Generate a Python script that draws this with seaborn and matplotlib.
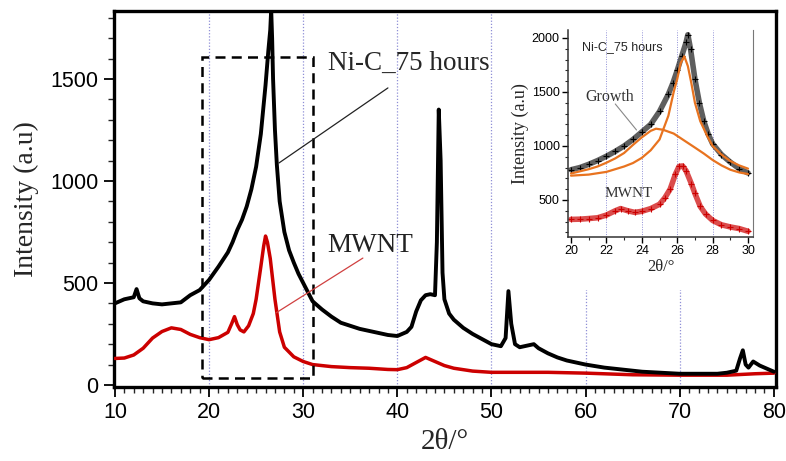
import matplotlib
matplotlib.use("Agg")
import matplotlib.pyplot as plt
from matplotlib.patches import Rectangle
from matplotlib.ticker import MultipleLocator
import seaborn as sns
import pandas as pd

# ---- main XRD patterns (2theta in degrees, intensity in a.u.) ----
nic_2theta = [10, 11, 12, 12.3, 12.6, 13, 14, 15, 16, 17, 18, 19, 20, 21, 22, 22.5, 23, 23.5,
              24, 24.5, 25, 25.5, 26, 26.3, 26.5, 26.6, 26.7, 26.8, 27, 27.2, 27.5, 28, 28.5,
              29, 29.5, 30, 31, 32, 33, 34, 35, 36, 37, 38, 39, 40, 41, 41.5, 42, 42.5, 43,
              43.5, 44, 44.2, 44.4, 44.6, 44.8, 45, 45.5, 46, 47, 48, 49, 50, 51, 51.5, 51.8,
              52.1, 52.5, 53, 54, 54.5, 55, 56, 57, 58, 59, 60, 62, 64, 66, 68, 70, 72, 74,
              75, 76, 76.4, 76.7, 77, 77.3, 77.8, 78.5, 79, 80]
nic_intensity = [400, 420, 430, 470, 425, 410, 400, 395, 400, 405, 440, 465, 515, 580, 650,
                 700, 760, 810, 875, 960, 1070, 1230, 1470, 1640, 1740, 1840, 1700, 1500, 1250,
                 1080, 900, 750, 660, 600, 545, 500, 410, 370, 335, 305, 290, 275, 265, 255,
                 245, 240, 260, 285, 360, 415, 440, 445, 440, 700, 1350, 1100, 550, 420, 350,
                 320, 280, 250, 225, 200, 190, 230, 460, 300, 200, 185, 195, 200, 180, 155,
                 135, 120, 110, 100, 85, 75, 65, 60, 55, 55, 55, 60, 70, 130, 170, 100, 85,
                 115, 95, 85, 65]

mwnt_2theta = [10, 11, 12, 13, 14, 15, 16, 17, 18, 19, 20, 21, 22, 22.4, 22.7, 23, 23.3, 23.7,
               24.2, 24.7, 25, 25.5, 25.8, 26, 26.2, 26.5, 27, 27.5, 28, 29, 30, 31, 33, 35,
               37, 39, 40, 41, 42, 43, 44, 45, 46, 48, 50, 52, 54, 56, 58, 60, 65, 70, 75,
               78, 80]
mwnt_intensity = [130, 132, 147, 180, 230, 262, 280, 272, 248, 232, 222, 232, 258, 300, 335,
                  295, 270, 260, 290, 350, 420, 580, 680, 730, 700, 620, 420, 260, 185, 138,
                  115, 100, 90, 85, 82, 76, 75, 85, 110, 135, 115, 95, 82, 68, 62, 62, 62, 62,
                  60, 58, 50, 48, 48, 55, 58]

# ---- zoomed (002) region with peak decomposition ----
zoom_2theta = [20.0, 20.5, 21.0, 21.5, 22.0, 22.5, 23.0, 23.5, 24.0, 24.5, 25.0, 25.5, 25.75,
               26.0, 26.25, 26.5, 26.6, 26.75, 27.0, 27.25, 27.5, 27.75, 28.0, 28.5, 29.0,
               29.5, 30.0]
zoom_nic = [780, 800, 830, 865, 905, 950, 1000, 1060, 1130, 1200, 1320, 1480, 1580, 1700,
            1830, 1960, 2030, 1900, 1620, 1400, 1230, 1110, 1020, 920, 850, 790, 750]

fit_sharp_2theta = [20, 21, 22, 23, 23.5, 24, 24.5, 25, 25.5, 25.8, 26, 26.2, 26.4, 26.6, 26.8,
                    27, 27.3, 27.7, 28, 28.5, 29, 29.5, 30]
fit_sharp = [725, 735, 760, 810, 842, 890, 960, 1060, 1280, 1500, 1620, 1770, 1830, 1740, 1580,
             1400, 1230, 1090, 1000, 920, 860, 820, 790]

fit_growth_2theta = [20, 20.5, 21, 21.5, 22, 22.5, 23, 23.5, 24, 24.5, 24.8, 25.2, 25.8, 26.4,
                     27, 27.5, 28, 28.5, 29, 29.5, 30]
fit_growth = [745, 765, 785, 810, 845, 885, 935, 1010, 1080, 1140, 1160, 1150, 1115, 1050, 985,
              930, 870, 820, 780, 755, 740]

zoom_mwnt_2theta = [20, 20.5, 21, 21.5, 22, 22.5, 22.8, 23.2, 23.6, 24, 24.5, 25, 25.3, 25.6,
                    25.9, 26.1, 26.3, 26.5, 26.8, 27, 27.3, 27.6, 28, 28.5, 29, 29.5, 30]
zoom_mwnt = [320, 322, 328, 335, 360, 400, 420, 400, 385, 395, 420, 460, 520, 600, 740, 810,
             815, 770, 650, 560, 440, 370, 310, 270, 250, 235, 210]

main_xticks = [10, 20, 30, 40, 50, 60, 70, 80]
main_yticks = [0, 500, 1000, 1500]
inset_xticks = [20, 22, 24, 26, 28, 30]
inset_yticks = [500, 1000, 1500, 2000]

sns.set_theme(style="white")
plt.rcParams["font.family"] = ["Liberation Sans", "DejaVu Sans"]
SERIF = ["Liberation Serif", "DejaVu Serif"]

BLACK = "#000000"
RED = "#cc0000"
ORANGE = "#e8731f"
GRID = "#8f8fd6"

fig = plt.figure(figsize=(7.86, 4.61), dpi=100)
ax = fig.add_axes([0.145, 0.1605, 0.842, 0.8156])

df_nic = pd.DataFrame({"two_theta": nic_2theta, "intensity": nic_intensity})
df_mwnt = pd.DataFrame({"two_theta": mwnt_2theta, "intensity": mwnt_intensity})

sns.lineplot(data=df_mwnt, x="two_theta", y="intensity", ax=ax, color=RED, lw=2.5,
             estimator=None, sort=False, zorder=3)
sns.lineplot(data=df_nic, x="two_theta", y="intensity", ax=ax, color=BLACK, lw=2.8,
             estimator=None, sort=False, zorder=4)

ax.set_xlim(9.9, 80.2)
ax.set_ylim(-10, 1833)
ax.set_xticks(main_xticks)
ax.set_yticks(main_yticks)
ax.xaxis.set_minor_locator(MultipleLocator(1))
ax.yaxis.set_minor_locator(MultipleLocator(100))
ax.tick_params(axis="both", which="major", direction="out", length=7, width=1.3,
               labelsize=15.5, colors=BLACK, bottom=True, left=True, pad=4)
ax.tick_params(axis="both", which="minor", direction="out", length=4, width=1.0,
               bottom=True, left=True)
for s in ax.spines.values():
    s.set_visible(True)
    s.set_color(BLACK)
    s.set_linewidth(2.4)

ax.set_axisbelow(True)
for gx in [20, 30, 40, 50, 60, 70]:
    ax.axvline(gx, color=GRID, lw=0.9, ls=(0, (1, 1.5)), zorder=0.5)

ax.set_xlabel("2\u03b8/\u00b0", family=SERIF, fontsize=21, labelpad=4)
ax.set_ylabel("Intensity (a.u)", family=SERIF, fontsize=20, labelpad=8)

# dashed box marking the zoomed (002) region
ax.add_patch(Rectangle((19.24, 34), 31.03 - 19.24, 1608 - 34, fill=False, ec=BLACK,
                       lw=1.8, ls=(0, (4, 2.5)), zorder=5))

# labels with leader lines
ax.text(32.6, 1544, "Ni-C_75 hours", family=SERIF, fontsize=19.5, va="baseline", zorder=6)
ax.plot([39.0, 27.42], [1456, 1088], color="#222222", lw=0.9, zorder=6)
ax.text(32.6, 652, "MWNT", family=SERIF, fontsize=19.5, va="baseline", color="#222222", zorder=6)
ax.plot([36.34, 27.1], [622, 353], color="#d04040", lw=0.9, zorder=6)

# white backing for the inset
ax.add_patch(Rectangle((500 / 786, (461 - 290) / 461), 274 / 786, 278 / 461,
                       transform=fig.transFigure, fc="white", ec="none", zorder=1))

# ---- inset ----
ins = fig.add_axes([568 / 786, (461 - 237) / 461, 185 / 786, 207 / 461])
ins.set_facecolor("white")
for gx in [22, 24, 26, 28]:
    ins.axvline(gx, color=GRID, lw=0.7, ls=(0, (1, 1.5)), zorder=0.5)

ins.plot(zoom_mwnt_2theta, zoom_mwnt, color=RED, lw=4.0, alpha=0.7, zorder=2)
ins.plot(zoom_mwnt_2theta, zoom_mwnt, ls="none", marker="+", ms=4, mew=0.8, color=RED, zorder=2)
ins.plot(zoom_2theta, zoom_nic, color="#1a1a1a", lw=4.0, alpha=0.7, zorder=2)
ins.plot(zoom_2theta, zoom_nic, ls="none", marker="+", ms=4, mew=0.8, color=BLACK, zorder=2)
sns.lineplot(x=fit_growth_2theta, y=fit_growth, ax=ins, color=ORANGE, lw=1.6,
             estimator=None, sort=False, zorder=3)
sns.lineplot(x=fit_sharp_2theta, y=fit_sharp, ax=ins, color=ORANGE, lw=1.6,
             estimator=None, sort=False, zorder=3)

ins.set_xlim(19.83, 30.28)
ins.set_ylim(157, 2074)
ins.set_xticks(inset_xticks)
ins.set_yticks(inset_yticks)
ins.xaxis.set_minor_locator(MultipleLocator(1))
ins.yaxis.set_minor_locator(MultipleLocator(100))
ins.tick_params(axis="both", which="major", direction="out", length=4, width=1.0,
                labelsize=9, colors=BLACK, bottom=True, left=True, pad=2)
ins.tick_params(axis="both", which="minor", direction="out", length=2.5, width=0.8,
                bottom=True, left=True)
for name, s in ins.spines.items():
    s.set_color("#333333")
    s.set_linewidth(1.1)
ins.spines["top"].set_visible(False)
ins.spines["right"].set_color("#777777")
ins.spines["right"].set_linewidth(0.8)

ins.set_xlabel("2\u03b8/\u00b0", family=SERIF, fontsize=12, labelpad=1)
ins.set_ylabel("Intensity (a.u)", family=SERIF, fontsize=13, labelpad=2)

ins.text(20.6, 1889, "Ni-C_75 hours", fontsize=9, va="baseline")
ins.text(20.8, 1420, "Growth", family=SERIF, fontsize=11.5, va="baseline", color="#333333")
ins.plot([22.5, 23.7], [1389, 1148], color="#888888", lw=0.8, zorder=4)
ins.text(21.9, 528, "MWNT", family=SERIF, fontsize=11, va="baseline", color="#333333")

fig.savefig("out.png", dpi=100)
